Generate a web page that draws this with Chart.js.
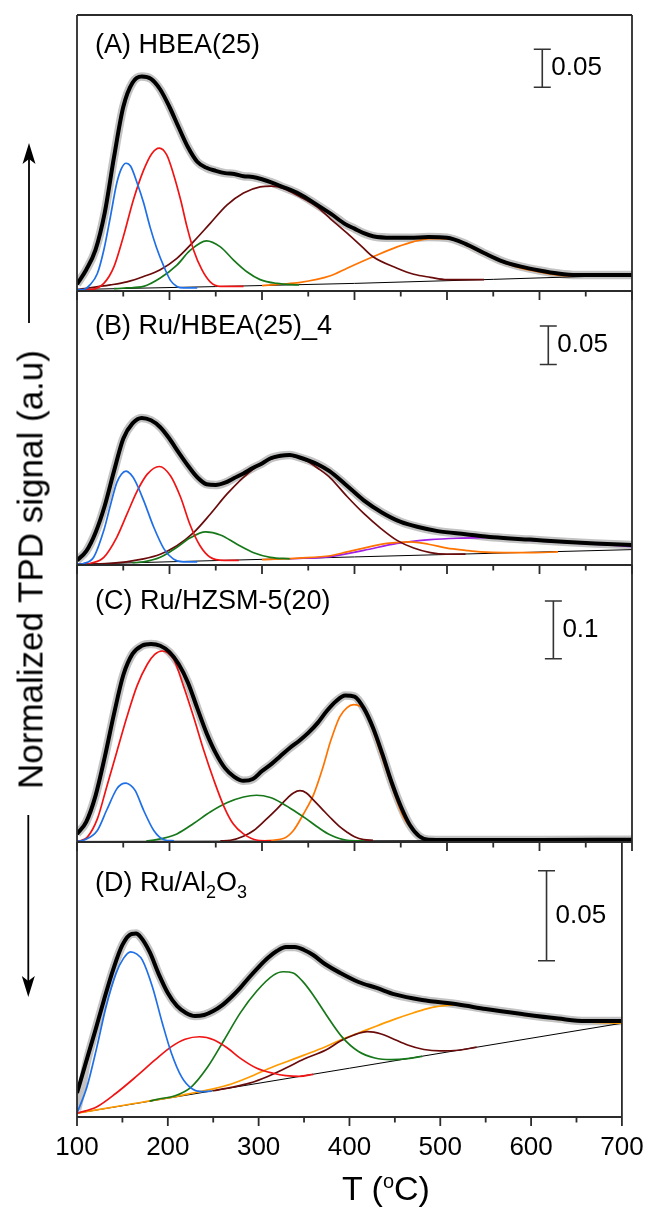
<!DOCTYPE html>
<html>
<head>
<meta charset="utf-8">
<title>NH3-TPD profiles</title>
<script src="https://cdn.jsdelivr.net/npm/chart.js@4.4.1/dist/chart.umd.min.js"></script>
<style>
  body { margin: 0; background: #fff; }
  #figure { position: relative; width: 659px; height: 1208px; font-family: "Liberation Sans", Arial, Helvetica, sans-serif; color: #000; }
  #figure canvas { position: absolute; left: 0; top: 0; }
  .panel-label { position: absolute; left: 95px; font-size: 27px; line-height: 27px; white-space: nowrap; z-index: 2; }
  .panel-label sub { font-size: 18px; line-height: 0; vertical-align: -7px; }
  #ylabel { position: absolute; left: 30px; top: 569px; width: 480px; height: 35px; margin-left: -240px; margin-top: -17.5px;
            font-size: 35px; line-height: 35px; text-align: center; transform: rotate(-90deg); white-space: nowrap; z-index: 2; }
  #xlabel { position: absolute; left: 342px; top: 1171px; font-size: 34px; line-height: 34px; white-space: nowrap; z-index: 2; }
  #xlabel sup { font-size: 20px; line-height: 0; vertical-align: 12px; }
  #arrows { position: absolute; left: 0; top: 0; z-index: 2; }
</style>
</head>
<body>
<div id="figure">
  <canvas id="panelA" width="659" height="1208"></canvas>
  <canvas id="panelB" width="659" height="1208"></canvas>
  <canvas id="panelC" width="659" height="1208"></canvas>
  <canvas id="panelD" width="659" height="1208"></canvas>

  <div class="panel-label" style="top:31px">(A) HBEA(25)</div>
  <div class="panel-label" style="top:312px">(B) Ru/HBEA(25)_4</div>
  <div class="panel-label" style="top:587px">(C) Ru/HZSM-5(20)</div>
  <div class="panel-label" style="top:869px">(D) Ru/Al<sub>2</sub>O<sub>3</sub></div>

  <div id="ylabel">Normalized TPD signal (a.u)</div>
  <div id="xlabel">T (<sup>o</sup>C)</div>

  <svg id="arrows" width="659" height="1208">
    <line x1="29" y1="323" x2="29" y2="156" stroke="#000" stroke-width="1.8"/>
    <polygon points="29,143 22.5,164 29,159 35.5,164" fill="#000"/>
    <line x1="28.3" y1="815" x2="28.3" y2="984" stroke="#000" stroke-width="1.8"/>
    <polygon points="28.3,997 21.8,976 28.3,981 34.8,976" fill="#000"/>
  </svg>
</div>

<script>
Chart.defaults.font.family = '"Liberation Sans", Arial, Helvetica, sans-serif'
Chart.defaults.color = '#000'

// temperature range of every panel (°C)
const tMin = 100
const tMax = 700

// points are [T (°C), normalized signal]

// (A) HBEA(25)
const aTotal = [[100,.009],[110,.028],[120,.054],[130,.103],[140,.176],[150,.242],[160,.274],[170,.282],[180,.279],[190,.265],[200,.242],[210,.215],[220,.189],[230,.170],[240,.162],[250,.158],[260,.155],[270,.154],[280,.151],[290,.150],[300,.147],[310,.143],[320,.138],[340,.128],[360,.113],[375,.101],[390,.088],[400,.082],[410,.076],[420,.072],[440,.070],[460,.070],[480,.071],[500,.070],[520,.062],[540,.050],[560,.039],[580,.032],[600,.027],[620,.023],[640,.021],[660,.021],[680,.021],[700,.021]]
const aBlue = [[100,.002],[107,.002],[114,.008],[122,.023],[129,.054],[136,.097],[143,.142],[148,.161],[153,.168],[158,.164],[165,.142],[172,.116],[179,.084],[186,.057],[194,.032],[201,.014],[208,.006],[215,.004],[230,.004]]
const aRed = [[110,.002],[114,.002],[129,.010],[140,.032],[150,.071],[161,.120],[172,.159],[181,.181],[189,.188],[197,.179],[204,.155],[212,.120],[219,.084],[226,.054],[235,.028],[244,.012],[255,.006],[266,.006],[280,.006]]
const aGreen = [[140,.003],[154,.004],[172,.006],[190,.017],[208,.034],[222,.053],[240,.066],[255,.058],[269,.041],[284,.025],[298,.015],[316,.010],[340,.008]]
const aMaroon = [[100,.002],[136,.008],[154,.012],[172,.019],[190,.028],[208,.043],[226,.065],[244,.089],[262,.113],[280,.129],[298,.137],[310,.138],[323,.135],[341,.124],[359,.111],[374,.095],[392,.076],[410,.056],[420,.045],[446,.030],[464,.022],[482,.018],[500,.015],[520,.015],[540,.015]]
const aOrange = [[300,.007],[320,.009],[340,.011],[374,.020],[392,.030],[420,.045],[446,.058],[464,.065],[482,.069],[492,.069],[510,.067],[520,.061],[540,.049],[560,.038],[580,.030],[600,.025],[620,.021],[640,.0195],[660,.0196]]
const aBase = [[100,.002],[400,.010],[700,.021]]

// (B) Ru/HBEA(25)_4
const bTotal = [[100,.006],[110,.018],[120,.042],[130,.077],[140,.122],[150,.164],[160,.184],[170,.191],[180,.188],[190,.179],[200,.164],[210,.146],[220,.129],[230,.114],[240,.105],[250,.104],[260,.107],[270,.113],[280,.119],[290,.126],[300,.132],[310,.139],[320,.142],[330,.143],[340,.140],[350,.136],[360,.131],[373,.122],[390,.105],[410,.084],[430,.068],[450,.056],[470,.049],[490,.044],[520,.040],[550,.036],[590,.033],[630,.030],[660,.028],[700,.026]]
const bBlue = [[100,.001],[107,.002],[118,.010],[129,.045],[136,.077],[143,.107],[148,.118],[153,.122],[158,.118],[163,.109],[172,.084],[183,.049],[194,.021],[204,.008],[215,.004],[230,.004]]
const bRed = [[110,.001],[114,.002],[129,.010],[143,.036],[154,.066],[165,.096],[176,.118],[189,.128],[201,.116],[212,.088],[222,.053],[233,.025],[244,.010],[259,.006],[275,.006]]
const bGreen = [[160,.003],[172,.004],[190,.010],[208,.023],[222,.035],[239,.043],[255,.039],[273,.027],[291,.016],[309,.010],[330,.008]]
const bMaroon = [[100,.001],[136,.002],[172,.008],[190,.014],[208,.025],[226,.042],[244,.066],[262,.092],[280,.114],[298,.131],[316,.140],[327,.142],[340,.139],[350,.134],[360,.126],[374,.113],[392,.089],[410,.067],[428,.048],[446,.032],[464,.022],[482,.016],[500,.014],[520,.014]]
const bOrange = [[300,.007],[340,.009],[374,.012],[392,.017],[410,.022],[435,.028],[460,.030],[480,.027],[500,.022],[520,.019],[536,.017],[561,.016],[590,.016],[620,.017]]
const bPurple = [[330,.008],[374,.011],[410,.019],[446,.028],[482,.033],[518,.035],[554,.036],[590,.032],[630,.029],[660,.027],[700,.024]]
const bBase = [[100,.001],[700,.020]]

// (C) Ru/HZSM-5(20)
const cTotal = [[100,.014],[110,.035],[120,.080],[130,.147],[140,.222],[150,.289],[160,.326],[170,.340],[180,.343],[190,.340],[200,.329],[210,.308],[220,.276],[230,.232],[240,.189],[250,.154],[260,.128],[270,.113],[280,.106],[290,.109],[300,.123],[310,.135],[320,.149],[330,.163],[340,.175],[350,.189],[360,.206],[370,.227],[380,.244],[390,.254],[400,.252],[410,.232],[420,.198],[430,.153],[440,.104],[450,.062],[460,.029],[470,.010],[480,.004],[500,.0035],[600,.0035],[700,.004]]
const cBlue = [[100,.001],[107,.003],[122,.020],[132,.055],[143,.092],[148,.100],[153,.102],[158,.098],[163,.089],[172,.055],[183,.020],[194,.004],[205,.002]]
const cRed = [[100,.001],[105,.003],[111,.008],[122,.040],[132,.095],[143,.156],[154,.217],[165,.271],[176,.308],[184,.325],[192,.331],[198,.328],[205,.315],[215,.271],[226,.217],[237,.159],[248,.107],[259,.061],[269,.031],[280,.014],[295,.003],[310,.002]]
const cGreen = [[175,.002],[186,.004],[208,.014],[226,.032],[244,.052],[262,.068],[280,.078],[294,.081],[309,.077],[323,.066],[336,.053],[348,.040],[360,.026],[374,.012],[392,.003],[410,.002]]
const cMaroon = [[255,.002],[266,.003],[280,.010],[291,.020],[303,.037],[316,.057],[328,.077],[334,.085],[341,.089],[348,.085],[356,.072],[365,.057],[374,.042],[383,.028],[392,.017],[400,.009],[410,.004],[420,.003]]
const cOrange = [[300,.002],[323,.006],[334,.020],[345,.049],[356,.083],[366,.130],[374,.174],[384,.217],[392,.233],[399,.238],[405,.236],[410,.231],[420,.193],[431,.141],[442,.089],[453,.043],[467,.014],[478,.004],[490,.003]]
const cBase = [[100,.001],[700,.003]]

// (D) Ru/Al2O3
const dTotal = [[100,.0133],[110,.0306],[120,.0478],[130,.0656],[140,.0822],[150,.0956],[160,.1017],[165,.1019],[170,.1000],[180,.0917],[190,.0794],[200,.0689],[210,.0617],[220,.0578],[230,.0561],[240,.0567],[250,.0589],[260,.0622],[270,.0667],[280,.0719],[290,.0778],[300,.0833],[310,.0883],[320,.0922],[330,.0944],[340,.0944],[350,.0928],[360,.0900],[373,.0850],[390,.0800],[410,.0750],[430,.0717],[450,.0681],[480,.0650],[520,.0625],[550,.0600],[590,.0572],[630,.0547],[660,.0533],[700,.0533]]
const dSignalStart = [[100,.004],[105,.015],[110,.029]]
const dBlue = [[100,.0021],[111,.0168],[122,.0391],[132,.0613],[143,.0798],[151,.0880],[159,.0918],[166,.0905],[172,.0872],[183,.0724],[194,.0521],[204,.0354],[215,.0224],[226,.0159],[237,.0141],[248,.0144]]
const dRed = [[100,.0021],[122,.0057],[143,.0132],[165,.0224],[186,.0317],[204,.0391],[219,.0432],[235,.0446],[251,.0428],[266,.0382],[280,.0326],[298,.0271],[316,.0243],[330,.0230],[345,.0226],[360,.0237]]
const dGreen = [[180,.0088],[190,.0100],[208,.0118],[226,.0168],[244,.0279],[262,.0428],[280,.0580],[298,.0700],[316,.0787],[327,.0807],[338,.0800],[348,.0756],[360,.0678],[374,.0571],[392,.0444],[410,.0364],[428,.0328],[446,.0319],[464,.0324],[480,.0337]]
const dOrange = [[100,.0021],[150,.0064],[200,.0106],[230,.0136],[250,.0156],[270,.0183],[290,.0222],[310,.0267],[330,.0306],[350,.0344],[373,.0389],[390,.0428],[410,.0467],[430,.0506],[450,.0544],[470,.0578],[490,.0608],[510,.0622],[520,.0624],[540,.0610],[560,.0592],[590,.0567],[630,.0542],[660,.0529],[700,.0521]]
const dMaroon = [[250,.0146],[270,.0165],[290,.0188],[310,.0225],[330,.0272],[350,.0322],[374,.0372],[390,.0422],[405,.0456],[420,.0474],[435,.0461],[446,.0439],[464,.0400],[482,.0375],[500,.0367],[520,.0371],[540,.0388]]
const dBase = [[100,.0021],[700,.0521]]

const blue = '#1f6fe6'
const red = '#f01414'
const green = '#17781a'
const maroon = '#6a0b0b'
const orange = '#ff7300'
const amber = '#ff9a00'
const purple = '#a01ee6'

// one entry per stacked panel: pixel box, y range, curves and the scale bar
const panels = [
  { canvas: 'panelA', top: 15, bottom: 291, yMax: 0.363, topEdge: true,
    signal: aTotal, total: aTotal, base: aBase,
    parts: [[aBlue, blue], [aRed, red], [aGreen, green], [aMaroon, maroon], [aOrange, orange]],
    bar: { t: 603, v: 0.268, len: 0.05, text: '0.05' } },
  { canvas: 'panelB', top: 291, bottom: 565, yMax: 0.356,
    signal: bTotal, total: bTotal, base: bBase,
    parts: [[bBlue, blue], [bRed, red], [bGreen, green], [bMaroon, maroon], [bOrange, orange], [bPurple, purple]],
    bar: { t: 609.5, v: 0.2606, len: 0.05, text: '0.05' } },
  { canvas: 'panelC', top: 565, bottom: 842, yMax: 0.480,
    signal: cTotal, total: cTotal, base: cBase,
    parts: [[cBlue, blue], [cRed, red], [cGreen, green], [cMaroon, maroon], [cOrange, orange]],
    bar: { t: 615, v: 0.3175, len: 0.1, text: '0.1' } },
  { canvas: 'panelD', top: 842, bottom: 1117, yMax: 0.1528, xLabels: true,
    signal: dSignalStart.concat(dTotal.slice(2)), total: dTotal, base: dBase,
    parts: [[dBlue, blue], [dRed, red], [dGreen, green], [dMaroon, maroon], [dOrange, amber]],
    bar: { t: 617, v: 0.0868, len: 0.05, text: '0.05' } }
]

function curve(data, color, width, order) {
  return {
    data: data,
    borderColor: color,
    borderWidth: width,
    pointRadius: 0,
    fill: false,
    cubicInterpolationMode: 'monotone',
    order: order
  }
}

// frame, tick marks under each panel and the vertical scale bar
const panelFrame = {
  id: 'panelFrame',
  afterDatasetsDraw(chart, args, opts) {
    const ctx = chart.ctx
    const a = chart.chartArea
    const x = chart.scales.x
    const y = chart.scales.y
    ctx.save()
    ctx.strokeStyle = '#2b2b2b'
    ctx.lineWidth = 1.8
    ctx.beginPath()
    ctx.moveTo(a.left, a.top)
    ctx.lineTo(a.left, a.bottom)
    ctx.lineTo(a.right, a.bottom)
    ctx.lineTo(a.right, a.top)
    if (opts.topEdge) {
      ctx.moveTo(a.left, a.top)
      ctx.lineTo(a.right, a.top)
    }
    for (let t = tMin; t <= tMax; t += 50) {
      const px = x.getPixelForValue(t)
      ctx.moveTo(px, a.bottom)
      ctx.lineTo(px, a.bottom + (t % 100 === 0 ? 9 : 5.5))
    }
    ctx.stroke()

    const bar = opts.bar
    const bx = x.getPixelForValue(bar.t)
    const y0 = y.getPixelForValue(bar.v)
    const y1 = y.getPixelForValue(bar.v + bar.len)
    ctx.strokeStyle = '#333'
    ctx.lineWidth = 1.6
    ctx.beginPath()
    ctx.moveTo(bx, y0); ctx.lineTo(bx, y1)
    ctx.moveTo(bx - 8.5, y0); ctx.lineTo(bx + 8.5, y0)
    ctx.moveTo(bx - 8.5, y1); ctx.lineTo(bx + 8.5, y1)
    ctx.stroke()
    ctx.fillStyle = '#000'
    ctx.font = '26px "Liberation Sans", Arial, sans-serif'
    ctx.textAlign = 'left'
    ctx.textBaseline = 'middle'
    ctx.fillText(bar.text, bx + 9, (y0 + y1) / 2)
    ctx.restore()
  }
}

for (const p of panels) {
  let datasets = [curve(p.total, '#000', 4, 0)]
  for (const part of p.parts) {
    datasets.push(curve(part[0], part[1], 1.7, 1))
  }
  datasets.push(curve(p.base, '#000', 1, 1))
  datasets.push(curve(p.signal, '#c3c3c3', 8.5, 2))

  // the bottom panel carries the temperature labels
  let axisRoom = p.xLabels ? 62 : 0

  new Chart(document.getElementById(p.canvas), {
    type: 'line',
    data: { datasets: datasets },
    options: {
      responsive: false,
      animation: false,
      events: [],
      layout: { padding: { left: 77, right: 27, top: p.top, bottom: 1208 - p.bottom - axisRoom } },
      plugins: {
        legend: { display: false },
        tooltip: { enabled: false },
        panelFrame: { topEdge: !!p.topEdge, bar: p.bar }
      },
      scales: {
        x: {
          type: 'linear', min: tMin, max: tMax,
          display: !!p.xLabels,
          border: { display: false },
          grid: { display: false, drawTicks: false },
          ticks: { stepSize: 100, padding: 15.4, maxRotation: 0, autoSkip: false, font: { size: 26 } }
        },
        y: { type: 'linear', min: 0, max: p.yMax, display: false }
      }
    },
    plugins: [panelFrame]
  })
}
</script>
</body>
</html>
